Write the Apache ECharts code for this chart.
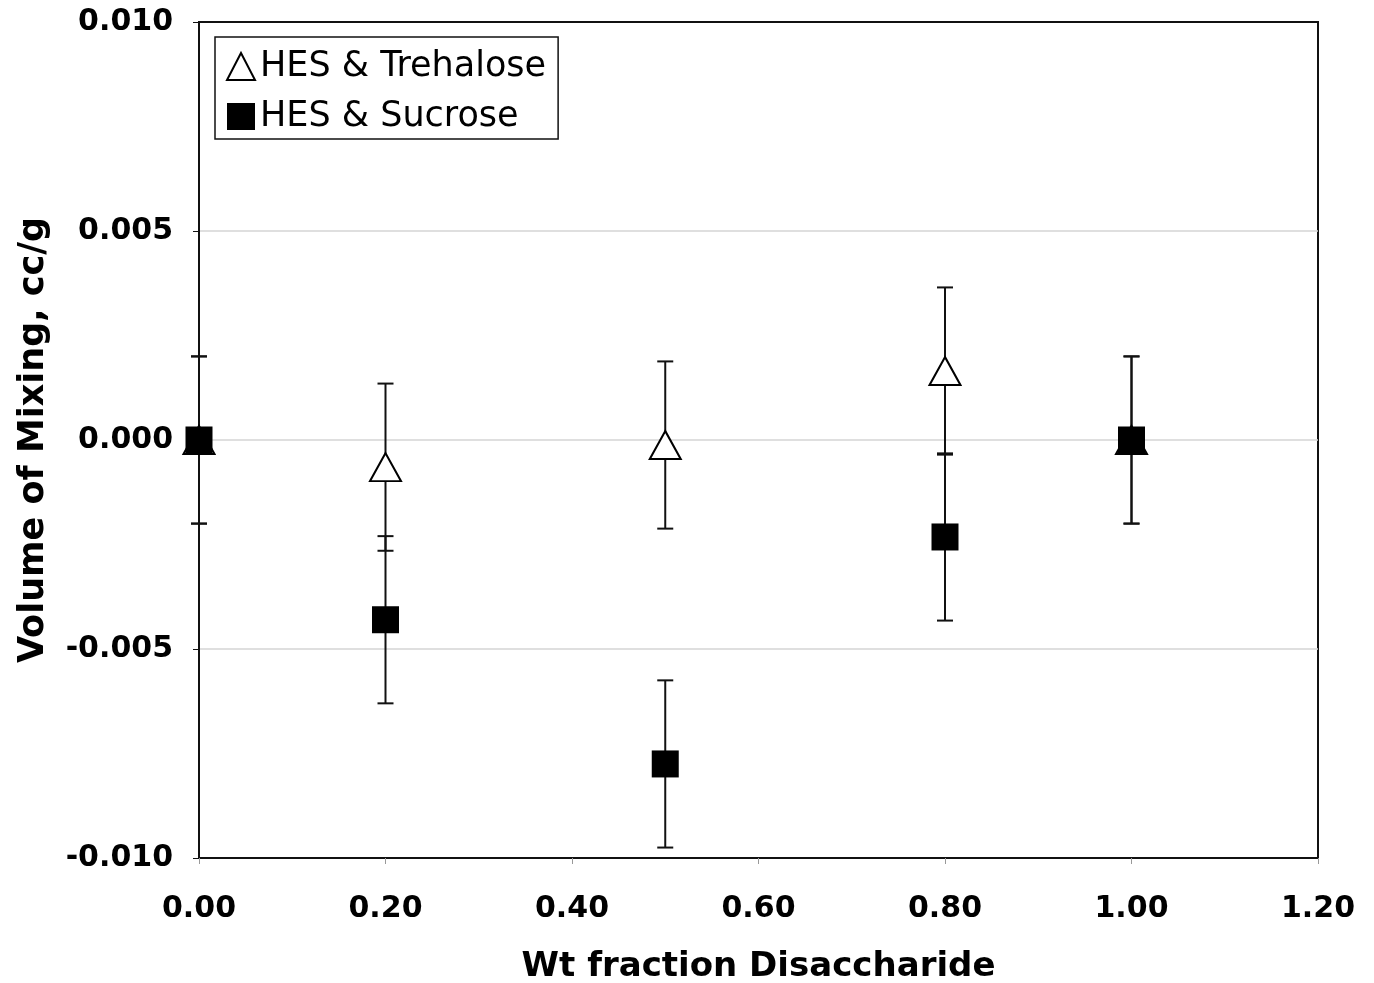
<!DOCTYPE html>
<html>
<head>
<meta charset="utf-8">
<script src="https://cdn.jsdelivr.net/npm/echarts@6/dist/echarts.min.js"></script>
<style>
  html, body { margin: 0; padding: 0; background: #fff; }
  #chart { width: 1374px; height: 983px; }
</style>
</head>
<body>
<div id="chart"></div>
<script>
// 数据
var xVals = [0.0, 0.2, 0.5, 0.8, 1.0];
var trehaloseVals = [0.0, -0.00065, -0.00012, 0.00165, 0.0];
var sucroseVals = [0.0, -0.0043, -0.00775, -0.00232, 0.0];
var trehaloseErr = [0.002, 0.002, 0.002, 0.002, 0.002];
var sucroseErr = [0.002, 0.002, 0.002, 0.002, 0.002];
var xTicks = [0, 0.2, 0.4, 0.6, 0.8, 1.0, 1.2];
var yTicks = [-0.01, -0.005, 0, 0.005, 0.01];

var myChart = echarts.init(document.getElementById('chart'));

function points(vals) {
    return xVals.map(function (x, i) { return [x, vals[i]]; });
}
function errData(vals, err) {
    return xVals.map(function (x, i) { return [x, vals[i] - err[i], vals[i] + err[i]]; });
}

// 误差线
function renderErr(params, api) {
    var lo = api.coord([api.value(0), api.value(1)]);
    var hi = api.coord([api.value(0), api.value(2)]);
    var w = 8;
    var st = { stroke: '#111', lineWidth: 2 };
    return {
        type: 'group',
        children: [
            { type: 'line', shape: { x1: lo[0], y1: lo[1], x2: hi[0], y2: hi[1] }, style: st },
            { type: 'line', shape: { x1: lo[0] - w, y1: lo[1], x2: lo[0] + w, y2: lo[1] }, style: st },
            { type: 'line', shape: { x1: hi[0] - w, y1: hi[1], x2: hi[0] + w, y2: hi[1] }, style: st }
        ]
    };
}

var tickFont = { fontFamily: 'DejaVu Sans', fontWeight: 'bold', fontSize: 30, color: '#000' };

var option = {
    animation: false,
    backgroundColor: '#fff',
    grid: {
        left: 199, right: 56, top: 22, bottom: 125,
        outerBoundsMode: 'none',
        containLabel: false,
        show: true, borderColor: '#111', borderWidth: 2
    },
    legend: {
        orient: 'vertical',
        left: 215, top: 37,
        data: ['HES & Trehalose', 'HES & Sucrose'],
        borderColor: '#111', borderWidth: 1.5,
        padding: [12, 12, 5, 11],
        itemWidth: 28, itemHeight: 27, itemGap: 15,
        textStyle: { fontFamily: 'DejaVu Sans', fontSize: 35, lineHeight: 35, color: '#000' }
    },
    xAxis: {
        type: 'value',
        min: 0, max: 1.2, interval: 0.2,
        name: 'Wt fraction Disaccharide',
        nameLocation: 'middle',
        nameGap: 92,
        nameTextStyle: { fontFamily: 'DejaVu Sans', fontWeight: 'bold', fontSize: 34, color: '#000' },
        axisLine: { onZero: false, lineStyle: { color: '#111', width: 2 } },
        axisTick: { show: true, length: 6, lineStyle: { color: '#999' } },
        axisLabel: Object.assign({ margin: 36, formatter: function (v) { return v.toFixed(2); } }, tickFont),
        splitLine: { show: false }
    },
    yAxis: {
        type: 'value',
        min: -0.01, max: 0.01, interval: 0.005,
        name: 'Volume of Mixing, cc/g',
        nameLocation: 'middle',
        nameGap: 148,
        nameTextStyle: { fontFamily: 'DejaVu Sans', fontWeight: 'bold', fontSize: 35, color: '#000' },
        axisLine: { show: true, onZero: false, lineStyle: { color: '#111', width: 2 } },
        axisTick: { show: true, length: 6, lineStyle: { color: '#111' } },
        axisLabel: Object.assign({ margin: 26, formatter: function (v) { return v.toFixed(3); } }, tickFont),
        splitLine: { show: true, showMaxLine: false, showMinLine: false, lineStyle: { color: '#d4d4d4', width: 1.5 } }
    },
    series: [
        {
            name: 'errT', type: 'custom', renderItem: renderErr,
            data: errData(trehaloseVals, trehaloseErr), z: 1, silent: true
        },
        {
            name: 'errS', type: 'custom', renderItem: renderErr,
            data: errData(sucroseVals, sucroseErr), z: 1, silent: true
        },
        {
            name: 'HES & Trehalose', type: 'scatter',
            symbol: 'triangle', symbolSize: [31, 28],
            itemStyle: { color: '#fff', borderColor: '#000', borderWidth: 2, opacity: 1 },
            data: points(trehaloseVals), z: 3
        },
        {
            name: 'HES & Sucrose', type: 'scatter',
            symbol: 'rect', symbolSize: 27,
            itemStyle: { color: '#000', opacity: 1 },
            data: points(sucroseVals), z: 4
        }
    ]
};

myChart.setOption(option);
window.addEventListener('resize', function () { myChart.resize(); });
</script>
</body>
</html>
